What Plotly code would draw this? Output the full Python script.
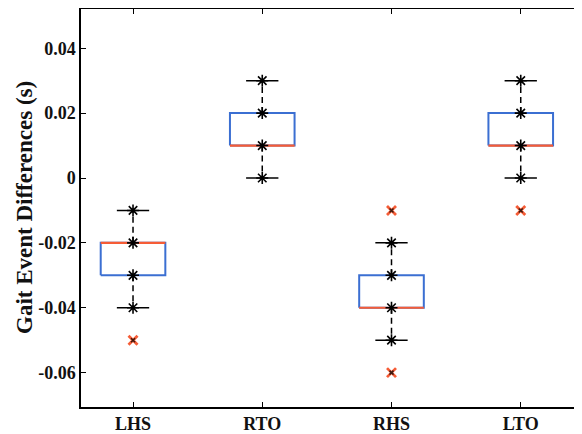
import plotly.graph_objects as go

categories = ["LHS", "RTO", "RHS", "LTO"]
q1 = [-0.03, 0.01, -0.04, 0.01]
medians = [-0.02, 0.01, -0.04, 0.01]
q3 = [-0.02, 0.02, -0.03, 0.02]
lower_whisker = [-0.04, 0.0, -0.05, 0.0]
upper_whisker = [-0.01, 0.03, -0.02, 0.03]
outliers = [[-0.05], [], [-0.01, -0.06], [-0.01]]
points = [[-0.01, -0.02, -0.03, -0.04],
          [0.0, 0.01, 0.02, 0.03],
          [-0.02, -0.03, -0.04, -0.05],
          [0.0, 0.01, 0.02, 0.03]]
y_ticks = [-0.06, -0.04, -0.02, 0, 0.02, 0.04]
y_ticktext = ["-0.06", "-0.04", "-0.02", "0", "0.02", "0.04"]

BLUE = "#3b6fd2"
RED = "#f65c36"
FONT = "Liberation Serif"
TXT = "#111111"
# page body has an 8px margin, so the figure is sized to fit the window
W, H = 574, 426
ML, MT, MB, MR = 73, 1, 27, 0

half_box = 0.25
half_cap = 0.125

fig = go.Figure()
for i, c in enumerate(categories):
    x = i + 1
    fig.add_trace(go.Scatter(x=[x, x, None, x, x],
                             y=[q3[i], upper_whisker[i], None, q1[i], lower_whisker[i]],
                             mode="lines", line=dict(color="black", width=1.5, dash="6px,4px"),
                             hoverinfo="skip", showlegend=False))
    fig.add_trace(go.Scatter(x=[x - half_cap, x + half_cap, None, x - half_cap, x + half_cap],
                             y=[upper_whisker[i], upper_whisker[i], None, lower_whisker[i], lower_whisker[i]],
                             mode="lines", line=dict(color="black", width=1.5),
                             hoverinfo="skip", showlegend=False))
    fig.add_trace(go.Scatter(x=[x - half_box, x + half_box, x + half_box, x - half_box, x - half_box],
                             y=[q1[i], q1[i], q3[i], q3[i], q1[i]],
                             mode="lines", line=dict(color=BLUE, width=2),
                             hoverinfo="skip", showlegend=False))
    fig.add_trace(go.Scatter(x=[x - half_box, x + half_box], y=[medians[i], medians[i]],
                             mode="lines", line=dict(color=RED, width=2.2),
                             hoverinfo="skip", showlegend=False))
    if outliers[i]:
        fig.add_trace(go.Scatter(x=[x] * len(outliers[i]), y=outliers[i], mode="markers",
                                 marker=dict(symbol="x-thin-open", size=9, color=RED,
                                             line=dict(color=RED, width=2.8)),
                                 hoverinfo="skip", showlegend=False))
        fig.add_trace(go.Scatter(x=[x] * len(outliers[i]), y=outliers[i], mode="markers",
                                 marker=dict(symbol="x-thin-open", size=4, color="#3a1a10",
                                             line=dict(color="#3a1a10", width=1.5)),
                                 hoverinfo="skip", showlegend=False))
    fig.add_trace(go.Scatter(x=[x] * len(points[i]), y=points[i], mode="markers",
                             marker=dict(symbol="asterisk-open", size=10, color="black",
                                         line=dict(color="black", width=1.6)),
                             hoverinfo="skip", showlegend=False))

fig.add_trace(go.Scatter(x=[1], y=[0], yaxis="y2", mode="markers",
                         marker=dict(opacity=0), hoverinfo="skip", showlegend=False))

tick_font = dict(family=FONT, size=18, color=TXT)
fig.update_layout(
    width=W, height=H,
    margin=dict(l=ML, r=MR, t=MT, b=MB, autoexpand=False),
    paper_bgcolor="white", plot_bgcolor="white",
    font=dict(family=FONT, size=18, color=TXT),
    xaxis=dict(range=[0.5975, 4.474], tickvals=[1, 2, 3, 4],
               ticktext=["<b>%s</b>" % c for c in categories], automargin=False,
               showgrid=False, zeroline=False, showline=True, linecolor="black", linewidth=1.5,
               mirror="ticks", ticks="inside", ticklen=5, tickcolor="black", tickwidth=1.2,
               tickfont=tick_font, ticklabelstandoff=0),
    yaxis=dict(range=[-0.0706, 0.0521], tickvals=y_ticks,
               ticktext=["<b>%s</b>" % t for t in y_ticktext], automargin=False,
               showgrid=False, zeroline=False, showline=True, linecolor="black", linewidth=1.5,
               mirror=False, ticks="inside", ticklen=5, tickcolor="black", tickwidth=1.2,
               tickfont=tick_font),
    yaxis2=dict(overlaying="y", side="right", range=[-0.0706, 0.0521], tickvals=y_ticks,
                showticklabels=False, showgrid=False, zeroline=False, showline=False,
                automargin=False,
                ticks="inside", ticklen=5, tickcolor="black", tickwidth=1.2),
    annotations=[dict(text="<b>Gait Event Differences (s)</b>", textangle=-90,
                      xref="paper", yref="paper", x=(16 - ML) / (W - ML - MR), y=0.5,
                      xanchor="center", yanchor="middle", showarrow=False,
                      font=dict(family=FONT, size=23, color=TXT))],
)

fig.write_html("out.html")
